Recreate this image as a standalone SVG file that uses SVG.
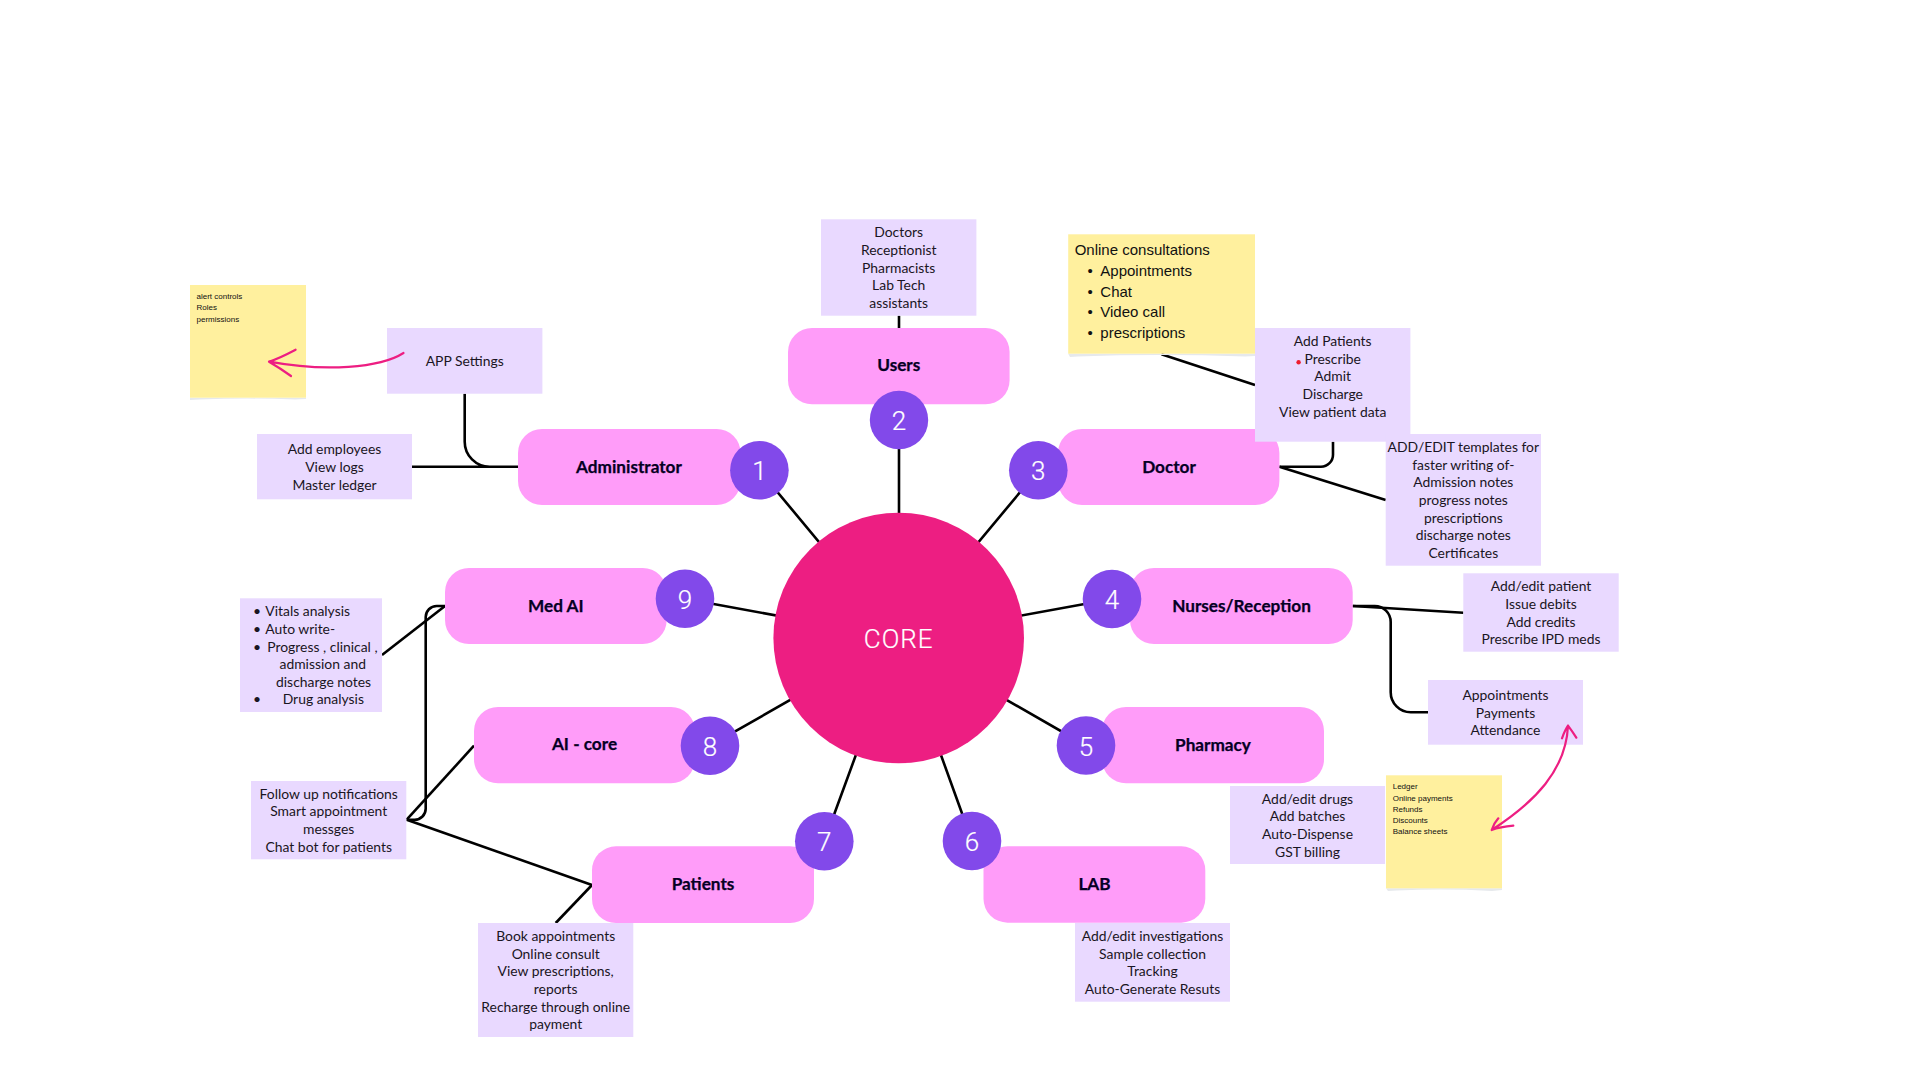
<svg xmlns="http://www.w3.org/2000/svg" width="1920" height="1080" viewBox="0 0 1920 1080">
<style>
.n{fill:#FF9CF9}
.b{fill:#E9D9FF}
.c{fill:#8249EA}
.s{fill:#FFF09E}
.sh{fill:#E6E9EC}
.l{fill:none;stroke:#000;stroke-width:2.6}
.p{fill:none;stroke:#ED1E82;stroke-width:2.2;stroke-linecap:round;stroke-linejoin:round}
text{font-family:"Lato","Liberation Sans",sans-serif}
.t{font-size:13.9px;fill:#1a1523;text-anchor:middle}
.tl{font-size:13.9px;fill:#1a1523}
.h{font-size:17.2px;font-weight:700;fill:#050024;stroke:#050024;stroke-width:.25;text-anchor:middle}
.d{font-family:"Roboto","Liberation Sans",sans-serif;font-size:26px;font-weight:300;fill:#fff;stroke:#fff;stroke-width:.2;text-anchor:middle}
.ar{font-family:"Liberation Sans",Arial,sans-serif;fill:#111}
.a16{font-size:15px}
.a8{font-size:8px}
</style>
<rect width="1920" height="1080" fill="#fff"/>
<g id="connectors">
<path class="l" d="M759.4 470.3L898.7 638M899 420V638M1038.3 470.3L898.7 638M1112 599L898.7 638M1086 745.5L898.7 638M972 841L898.7 638M824.3 841.3L898.7 638M710 745.7L898.7 638M685 598.7L898.7 638"/>
<path class="l" d="M899 315.7V328"/>
<path class="l" d="M412 466.7H518M464.7 393.7V441.7A25 25 0 0 0 489.7 466.7H518"/>
<path class="l" d="M1161.5 354.3L1255 385"/>
<path class="l" d="M1279.4 466.7H1321A12 12 0 0 0 1333 454.7V441.7"/>
<path class="l" d="M1279.4 466.7L1385.7 500"/>
<path class="l" d="M1352.7 606L1463.3 612.7"/>
<path class="l" d="M1352.7 606H1374.7A16 16 0 0 1 1390.7 622V692.3A20 20 0 0 0 1410.7 712.3H1428"/>
<path class="l" d="M382 655L445 606"/>
<path class="l" d="M406.7 819.7L474 745.7"/>
<path class="l" d="M406.7 819.7H414.7A11 11 0 0 0 425.7 808.7V617A11 11 0 0 1 436.7 606H445"/>
<path class="l" d="M406.7 819.7L592 885"/>
<path class="l" d="M592 885L555.7 923"/>
</g>
<g id="core"><circle cx="898.7" cy="638" r="125.3" fill="#ED1E82"/><text class="d" x="898.7" y="648" letter-spacing="1">CORE</text></g>
<g id="node-users"><rect class="b" x="821" y="219.3" width="155.4" height="96.4"/><text class="t"><tspan x="898.7" y="236.7">Doctors</tspan><tspan x="898.7" y="254.7">Receptionist</tspan><tspan x="898.7" y="272.7">Pharmacists</tspan><tspan x="898.7" y="289.7">Lab Tech</tspan><tspan x="898.7" y="307.7">assistants</tspan></text>
<rect class="n" x="788" y="328" width="221.6" height="76.3" rx="24"/><text class="h" x="898.8" y="371">Users</text><circle class="c" cx="899" cy="420" r="29.2"/><text class="d" x="899" y="430">2</text></g>
<g id="node-administrator"><rect class="n" x="518" y="429" width="222.6" height="76" rx="24"/><text class="h" x="629" y="472.5">Administrator</text><circle class="c" cx="759.4" cy="470.3" r="29.3"/><text class="d" x="759.4" y="480">1</text></g>
<g id="note-settings"><rect class="b" x="387" y="328" width="155.4" height="65.7"/><text class="t" x="464.7" y="366">APP Settings</text></g>
<g id="note-employees"><rect class="b" x="257" y="434" width="155" height="65.3"/><text class="t"><tspan x="334.5" y="453.7">Add employees</tspan><tspan x="334.5" y="471.7">View logs</tspan><tspan x="334.5" y="489.7">Master ledger</tspan></text></g>
<g id="sticky-alerts"><path class="sh" d="M190 397.7H306V399L295 399.5Q248 397.7 200 399.5L190 400Z"/><rect class="s" x="190" y="285" width="116" height="112.7"/><text class="ar a8"><tspan x="196.5" y="299">alert controls</tspan><tspan x="196.5" y="310">Roles</tspan><tspan x="196.5" y="322">permissions</tspan></text></g>
<g id="node-doctor"><rect class="n" x="1058" y="429" width="221.4" height="76" rx="24"/><text class="h" x="1169" y="472.5">Doctor</text><circle class="c" cx="1038.3" cy="470.3" r="29.3"/><text class="d" x="1038.3" y="480">3</text></g>
<g id="sticky-online"><path class="sh" d="M1068.2 353.7H1255V356L1245 356.5Q1160 353.7 1078 356.5L1070 357Z"/><rect class="s" x="1068.2" y="234.3" width="186.8" height="119.4"/><text class="ar a16"><tspan x="1074.7" y="254.5">Online consultations</tspan><tspan x="1087.5" y="275.5">•</tspan><tspan x="1100.3" y="275.5">Appointments</tspan><tspan x="1087.5" y="296.5">•</tspan><tspan x="1100.3" y="296.5">Chat</tspan><tspan x="1087.5" y="316.5">•</tspan><tspan x="1100.3" y="316.5">Video call</tspan><tspan x="1087.5" y="337.5">•</tspan><tspan x="1100.3" y="337.5">prescriptions</tspan></text></g>
<g id="note-doctor"><rect class="b" x="1255" y="328" width="155.4" height="113.7"/><text class="t"><tspan x="1332.7" y="345.7">Add Patients</tspan><tspan x="1332.7" y="363.7">Prescribe</tspan><tspan x="1332.7" y="380.7">Admit</tspan><tspan x="1332.7" y="398.7">Discharge</tspan><tspan x="1332.7" y="416.7">View patient data</tspan></text><circle cx="1298.6" cy="362.3" r="2.2" fill="#EE1C2E"/></g>
<g id="note-templates"><rect class="b" x="1385.7" y="434" width="155.3" height="131.7"/><text class="t"><tspan x="1463.3" y="451.7">ADD/EDIT templates for</tspan><tspan x="1463.3" y="469.7">faster writing of-</tspan><tspan x="1463.3" y="486.7">Admission notes</tspan><tspan x="1463.3" y="504.7">progress notes</tspan><tspan x="1463.3" y="522.7">prescriptions</tspan><tspan x="1463.3" y="539.7">discharge notes</tspan><tspan x="1463.3" y="557.7">Certificates</tspan></text></g>
<g id="node-nurses"><rect class="n" x="1130" y="568" width="222.7" height="76" rx="24"/><text class="h" x="1241.5" y="611.5">Nurses/Reception</text><circle class="c" cx="1112" cy="599" r="29.3"/><text class="d" x="1112" y="609">4</text></g>
<g id="note-nurses"><rect class="b" x="1463.3" y="573.3" width="155.4" height="78.4"/><text class="t"><tspan x="1541" y="590.7">Add/edit patient</tspan><tspan x="1541" y="608.7">Issue debits</tspan><tspan x="1541" y="626.7">Add credits</tspan><tspan x="1541" y="643.7">Prescribe IPD meds</tspan></text></g>
<g id="note-appointments"><rect class="b" x="1428" y="680" width="155" height="64.7"/><text class="t"><tspan x="1505.5" y="699.7">Appointments</tspan><tspan x="1505.5" y="717.7">Payments</tspan><tspan x="1505.5" y="734.7">Attendance</tspan></text></g>
<g id="node-pharmacy"><rect class="n" x="1102" y="707" width="222" height="76.3" rx="24"/><text class="h" x="1213" y="750.5">Pharmacy</text><circle class="c" cx="1086" cy="745.5" r="29.3"/><text class="d" x="1086" y="755.5">5</text></g>
<g id="note-pharmacy"><rect class="b" x="1230" y="786" width="155" height="78"/><text class="t"><tspan x="1307.5" y="803.7">Add/edit drugs</tspan><tspan x="1307.5" y="820.7">Add batches</tspan><tspan x="1307.5" y="838.7">Auto-Dispense</tspan><tspan x="1307.5" y="856.7">GST billing</tspan></text></g>
<g id="sticky-ledger"><path class="sh" d="M1386 888.3H1502V890L1492 891Q1445 888.3 1397 890.5L1388 891Z"/><rect class="s" x="1386" y="775.3" width="116" height="113"/><text class="ar a8"><tspan x="1392.7" y="789">Ledger</tspan><tspan x="1392.7" y="801">Online payments</tspan><tspan x="1392.7" y="812">Refunds</tspan><tspan x="1392.7" y="823">Discounts</tspan><tspan x="1392.7" y="834">Balance sheets</tspan></text></g>
<g id="node-lab"><rect class="n" x="983.5" y="846.3" width="221.8" height="76.4" rx="24"/><text class="h" x="1094.5" y="890">LAB</text><circle class="c" cx="972" cy="841" r="29.3"/><text class="d" x="972" y="851">6</text></g>
<g id="note-lab"><rect class="b" x="1075" y="923" width="155" height="78.7"/><text class="t"><tspan x="1152.5" y="940.7">Add/edit investigations</tspan><tspan x="1152.5" y="958.7">Sample collection</tspan><tspan x="1152.5" y="976">Tracking</tspan><tspan x="1152.5" y="993.7">Auto-Generate Resuts</tspan></text></g>
<g id="node-patients"><rect class="n" x="592" y="846.3" width="222" height="76.7" rx="24"/><text class="h" x="703" y="890">Patients</text><circle class="c" cx="824.3" cy="841.3" r="29.3"/><text class="d" x="824.3" y="851.3">7</text></g>
<g id="note-patients"><rect class="b" x="478" y="923" width="155.3" height="114"/><text class="t"><tspan x="555.7" y="940.7">Book appointments</tspan><tspan x="555.7" y="958.7">Online consult</tspan><tspan x="555.7" y="976">View prescriptions,</tspan><tspan x="555.7" y="993.7">reports</tspan><tspan x="555.7" y="1011.7">Recharge through online</tspan><tspan x="555.7" y="1028.7">payment</tspan></text></g>
<g id="node-ai-core"><rect class="n" x="474" y="707" width="221" height="76.3" rx="24"/><text class="h" x="584.5" y="750">AI - core</text><circle class="c" cx="710" cy="745.7" r="29.3"/><text class="d" x="710" y="755.7">8</text></g>
<g id="note-followup"><rect class="b" x="251" y="781" width="155.3" height="78.3"/><text class="t"><tspan x="328.7" y="798.7">Follow up notifications</tspan><tspan x="328.7" y="815.7">Smart appointment</tspan><tspan x="328.7" y="834">messges</tspan><tspan x="328.7" y="851.7">Chat bot for patients</tspan></text></g>
<g id="node-med-ai"><rect class="n" x="445" y="568" width="221.7" height="76" rx="24"/><text class="h" x="555.8" y="611.5">Med AI</text><circle class="c" cx="685" cy="598.7" r="29.3"/><text class="d" x="685" y="608.7">9</text></g>
<g id="note-medai"><rect class="b" x="240" y="598.3" width="142" height="113.7"/><text class="tl"><tspan x="253" y="615.7">•</tspan><tspan x="265.3" y="615.7">Vitals analysis</tspan><tspan x="253" y="633.7">•</tspan><tspan x="265.3" y="633.7">Auto write-</tspan><tspan x="253" y="651.7">•</tspan><tspan x="267.3" y="651.7">Progress , clinical ,</tspan><tspan x="279.5" y="668.7">admission and</tspan><tspan x="276" y="686.7">discharge notes</tspan><tspan x="253" y="703.7">•</tspan><tspan x="282.7" y="703.7">Drug analysis</tspan></text></g>
<g id="annotations">
<path class="p" d="M403.5 353C380 368 325 372 269 361.7M295.6 349.7Q280 358 269 361.7Q280 368 291 376"/>
<path class="p" d="M1568 725.7C1566 770 1535 802 1491.7 830M1562 738.3Q1565 730 1568 725.7Q1572 731 1576.3 737.7M1513.3 825.7Q1500 827 1491.7 830Q1494 823 1498.3 818.3"/>
</g>
</svg>
